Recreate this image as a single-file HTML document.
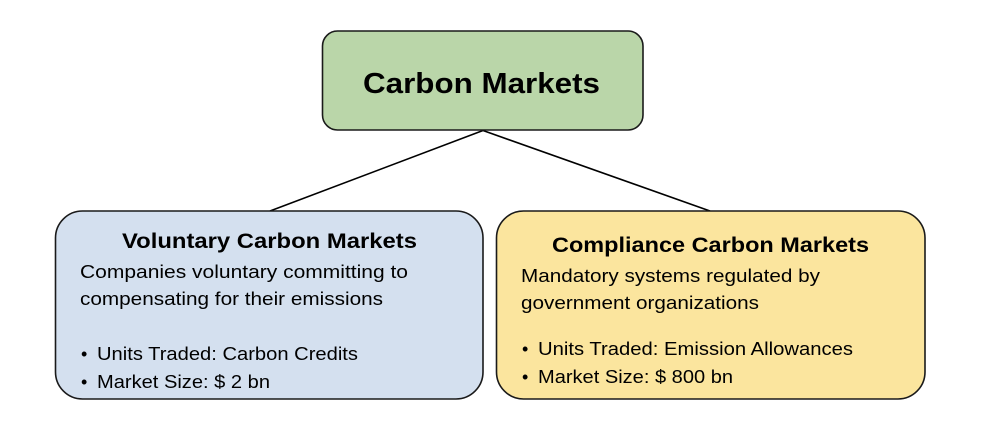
<!DOCTYPE html>
<html>
<head>
<meta charset="utf-8">
<style>
  html, body { margin: 0; padding: 0; background: #ffffff; }
  body { width: 986px; height: 430px; overflow: hidden; }
  svg { display: block; }
  text { font-family: "Liberation Sans", Arial, sans-serif; fill: #000; }
</style>
</head>
<body>
<svg width="986" height="430" viewBox="0 0 986 430" xmlns="http://www.w3.org/2000/svg">
  <!-- connectors -->
  <line x1="483" y1="130.5" x2="270" y2="211" stroke="#000" stroke-width="1.6"/>
  <line x1="483" y1="130.5" x2="710" y2="211" stroke="#000" stroke-width="1.6"/>

  <!-- top box -->
  <rect x="322.5" y="31" width="320.5" height="99" rx="15" ry="15" fill="#bad6a9" stroke="#1a1a1a" stroke-width="1.6"/>
  <text x="363" y="93" font-size="28.5" font-weight="bold" textLength="237" lengthAdjust="spacingAndGlyphs">Carbon Markets</text>

  <!-- left box -->
  <rect x="55.5" y="211" width="427.5" height="188" rx="27" ry="27" fill="#d4e0ef" stroke="#1a1a1a" stroke-width="1.6"/>
  <text x="122" y="248" font-size="21.5" font-weight="bold" textLength="295" lengthAdjust="spacingAndGlyphs">Voluntary Carbon Markets</text>
  <text x="80" y="278" font-size="18.5" textLength="328" lengthAdjust="spacingAndGlyphs">Companies voluntary committing to</text>
  <text x="80" y="305" font-size="18.5" textLength="303" lengthAdjust="spacingAndGlyphs">compensating for their emissions</text>
  <text x="81" y="360" font-size="18">•</text>
  <text x="97" y="360" font-size="18.5" textLength="261" lengthAdjust="spacingAndGlyphs">Units Traded: Carbon Credits</text>
  <text x="81" y="388" font-size="18">•</text>
  <text x="97" y="388" font-size="18.5" textLength="173" lengthAdjust="spacingAndGlyphs">Market Size: $ 2 bn</text>

  <!-- right box -->
  <rect x="496.5" y="211" width="428.5" height="188" rx="27" ry="27" fill="#fbe59e" stroke="#1a1a1a" stroke-width="1.6"/>
  <text x="552" y="252" font-size="21.5" font-weight="bold" textLength="317" lengthAdjust="spacingAndGlyphs">Compliance Carbon Markets</text>
  <text x="521" y="282" font-size="18.5" textLength="299" lengthAdjust="spacingAndGlyphs">Mandatory systems regulated by</text>
  <text x="521" y="309" font-size="18.5" textLength="238" lengthAdjust="spacingAndGlyphs">government organizations</text>
  <text x="522" y="355" font-size="18">•</text>
  <text x="538" y="355" font-size="18.5" textLength="315" lengthAdjust="spacingAndGlyphs">Units Traded: Emission Allowances</text>
  <text x="522" y="383" font-size="18">•</text>
  <text x="538" y="383" font-size="18.5" textLength="195" lengthAdjust="spacingAndGlyphs">Market Size: $ 800 bn</text>
</svg>
</body>
</html>
